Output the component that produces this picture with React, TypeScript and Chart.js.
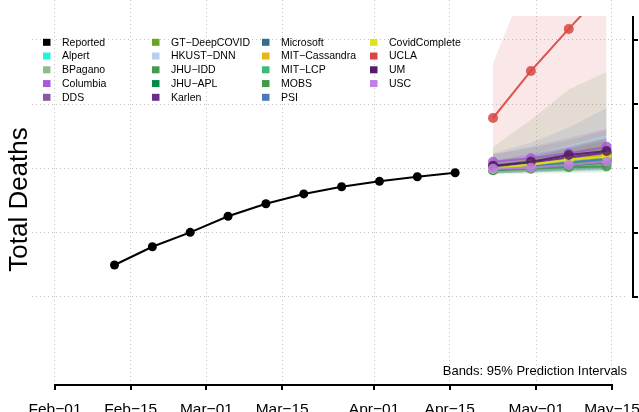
import React, { useEffect, useRef } from 'react';
import { Chart, registerables } from 'chart.js';
Chart.register(...registerables);

const FONT = 'Liberation Sans, Arial, Helvetica, sans-serif';

// X axis: days since Feb-01
const tickDays = [0, 14, 28, 42, 59, 73, 89, 103];
const tickLabels = ['Feb−01', 'Feb−15', 'Mar−01', 'Mar−15', 'Apr−01', 'Apr−15', 'May−01', 'May−15'];
// Y axis ticks (thousands of deaths; labels are outside the visible frame)
const yTicks = [450, 500, 550, 600, 650];

const reportedDays = [11, 18, 25, 32, 39, 46, 53, 60, 67, 74];
const reportedDeaths = [474.9, 489.1, 500.3, 512.8, 522.6, 530.2, 535.8, 540.0, 543.6, 546.7];

const forecastDays = [81, 88, 95, 102];

const modelNames = [
  'Alpert', 'BPagano', 'Columbia', 'DDS', 'GT−DeepCOVID', 'HKUST−DNN', 'JHU−IDD', 'JHU−APL', 'Karlen',
  'Microsoft', 'MIT−Cassandra', 'MIT−LCP', 'MOBS', 'PSI', 'CovidComplete', 'UCLA', 'UM', 'USC',
];
const modelColors = [
  '#1FF5DA', '#8FBC8F', '#A85AD7', '#8A58A3', '#67A61C', '#B8CEF2', '#469A4D', '#008B45', '#6A2C8F',
  '#2E6F8E', '#E5B716', '#3DBB74', '#419A4A', '#4E78BC', '#DDE31A', '#D94644', '#521F66', '#BE80E2',
];
const modelPoints = [
  [549.6, 552.2, 555.0, 558.0],
  [549.8, 552.6, 555.6, 558.6],
  [555.3, 557.9, 561.8, 567.0],
  [551.0, 554.0, 557.4, 561.0],
  [549.2, 552.0, 555.2, 558.2],
  [550.2, 552.6, 555.0, 557.4],
  [549.0, 551.6, 554.2, 556.8],
  [548.6, 550.6, 552.6, 554.6],
  [551.6, 554.6, 558.6, 562.4],
  [550.4, 553.4, 556.8, 560.2],
  [550.0, 553.4, 557.0, 560.6],
  [549.2, 551.8, 554.4, 557.0],
  [548.8, 549.8, 551.0, 551.6],
  [549.6, 552.2, 554.8, 557.4],
  [549.6, 553.0, 556.6, 559.4],
  [589.3, 625.9, 658.6, 690.3],
  [552.2, 555.3, 560.5, 563.6],
  [549.8, 550.6, 552.7, 555.3],
];
const modelLower = [
  [546.5, 547.5, 548.5, 549.5],
  [547.0, 548.0, 549.0, 550.0],
  [549.0, 550.0, 551.5, 553.0],
  [547.5, 549.0, 550.5, 552.0],
  [546.5, 547.5, 548.5, 549.5],
  [547.5, 548.5, 549.5, 550.5],
  [546.0, 547.0, 548.0, 549.0],
  [546.5, 547.0, 547.5, 548.0],
  [548.5, 550.0, 551.5, 553.0],
  [546.0, 547.5, 549.0, 550.5],
  [547.0, 548.5, 550.0, 551.5],
  [546.5, 547.5, 548.5, 549.5],
  [545.5, 546.0, 546.5, 547.0],
  [546.5, 547.5, 548.5, 549.5],
  [547.0, 548.5, 550.0, 551.5],
  [553.0, 561.0, 568.0, 576.0],
  [549.0, 551.0, 553.0, 555.0],
  [546.5, 547.0, 548.0, 549.0],
];
const modelUpper = [
  [553.0, 557.0, 562.0, 567.0],
  [553.0, 558.0, 563.0, 568.0],
  [561.0, 566.0, 572.0, 580.0],
  [555.0, 559.0, 565.0, 571.0],
  [552.5, 557.0, 562.0, 567.0],
  [553.0, 557.0, 561.0, 565.0],
  [553.0, 557.0, 562.0, 567.0],
  [551.0, 554.0, 558.0, 562.0],
  [555.0, 560.0, 566.0, 573.0],
  [561.0, 567.0, 574.0, 581.0],
  [554.0, 559.0, 565.0, 572.0],
  [552.5, 556.5, 561.0, 566.0],
  [566.7, 588.0, 611.5, 625.0],
  [562.0, 570.0, 582.0, 597.0],
  [553.0, 558.0, 564.0, 570.0],
  [632.0, 705.0, 775.0, 845.0],
  [556.0, 561.0, 567.0, 574.0],
  [553.0, 556.0, 560.0, 564.0],
];

const noteText = 'Bands: 95% Prediction Intervals';
const yTitle = 'Total Deaths';

function rgba(hex: string, a: number) {
  const n = parseInt(hex.slice(1), 16);
  return `rgba(${(n >> 16) & 255},${(n >> 8) & 255},${n & 255},${a})`;
}

const PLOT_TOP = 16;
const GRID = '#c4c4c4';

const rPlugin = {
  id: 'rStyle',
  beforeDatasetsDraw(chart: any) {
    const { ctx, chartArea: a } = chart;
    ctx.save();
    ctx.beginPath();
    ctx.rect(a.left, a.top + PLOT_TOP, a.right - a.left, a.bottom - a.top - PLOT_TOP);
    ctx.clip();
  },
  afterDatasetsDraw(chart: any) {
    chart.ctx.restore();
  },
  afterDraw(chart: any) {
    const { ctx, chartArea: a, scales } = chart;
    const xs = scales.x;
    const ys = scales.y;
    ctx.save();
    ctx.strokeStyle = '#000';
    ctx.lineWidth = 2;
    ctx.lineCap = 'butt';
    // bottom axis
    const ay = a.bottom + 2;
    ctx.beginPath();
    ctx.moveTo(xs.getPixelForValue(tickDays[0]) - 1, ay);
    ctx.lineTo(xs.getPixelForValue(tickDays[tickDays.length - 1]) + 1, ay);
    for (const d of tickDays) {
      const px = Math.round(xs.getPixelForValue(d));
      ctx.moveTo(px, ay);
      ctx.lineTo(px, ay + 5);
    }
    ctx.stroke();
    // right axis
    const ax = a.right + 5;
    ctx.beginPath();
    ctx.moveTo(ax, a.top + PLOT_TOP);
    ctx.lineTo(ax, ys.getPixelForValue(yTicks[0]) + 1);
    for (const v of yTicks) {
      const py = Math.round(ys.getPixelForValue(v));
      ctx.moveTo(ax, py);
      ctx.lineTo(ax + 5, py);
    }
    ctx.stroke();

    // y title
    ctx.fillStyle = '#000';
    ctx.save();
    ctx.translate(27, (a.top + PLOT_TOP + a.bottom) / 2);
    ctx.rotate(-Math.PI / 2);
    ctx.font = `26px ${FONT}`;
    ctx.textAlign = 'center';
    ctx.textBaseline = 'alphabetic';
    ctx.fillText(yTitle, 0, 0);
    ctx.restore();

    // note
    ctx.font = `13px ${FONT}`;
    ctx.textAlign = 'right';
    ctx.textBaseline = 'alphabetic';
    ctx.fillText(noteText, a.right - 1, a.bottom - 8.5);

    // legend (column-major, 5 rows)
    const names = ['Reported', ...modelNames];
    const colors = ['#000000', ...modelColors];
    const colX = [43, 152, 262, 370];
    ctx.font = `10.5px ${FONT}`;
    ctx.textAlign = 'left';
    ctx.textBaseline = 'middle';
    names.forEach((nm, i) => {
      const c = Math.floor(i / 5);
      const r = i % 5;
      const x = colX[c];
      const y = 42.3 + r * 13.75;
      ctx.fillStyle = colors[i];
      ctx.fillRect(x, y - 3.5, 7.5, 7);
      ctx.fillStyle = '#000';
      ctx.fillText(nm, x + 19, y + 0.5);
    });
    ctx.restore();
  },
};

export default function App() {
  const ref = useRef<HTMLCanvasElement>(null);
  useEffect(() => {
    const canvas = ref.current!;
    const datasets: any[] = [];
    // bands
    modelNames.forEach((nm, i) => {
      datasets.push({
        label: nm + ' lower',
        data: forecastDays.map((d, j) => ({ x: d, y: modelLower[i][j] })),
        borderColor: 'rgba(0,0,0,0)',
        borderWidth: 0,
        pointRadius: 0,
        fill: false,
        order: 3000 - i * 2,
      });
      datasets.push({
        label: nm + ' upper',
        data: forecastDays.map((d, j) => ({ x: d, y: modelUpper[i][j] })),
        borderColor: 'rgba(0,0,0,0)',
        borderWidth: 0,
        pointRadius: 0,
        backgroundColor: rgba(modelColors[i], 0.13),
        fill: '-1',
        order: 3000 - i * 2 - 1,
      });
    });
    // reported
    datasets.push({
      label: 'Reported',
      data: reportedDays.map((d, j) => ({ x: d, y: reportedDeaths[j] })),
      borderColor: '#000',
      backgroundColor: '#000',
      borderWidth: 2,
      pointRadius: 4.5,
      pointBorderWidth: 0,
      pointBackgroundColor: '#000',
      fill: false,
      order: 500,
    });
    modelNames.forEach((nm, i) => {
      datasets.push({
        label: nm,
        data: forecastDays.map((d, j) => ({ x: d, y: modelPoints[i][j] })),
        borderColor: rgba(modelColors[i], 0.9),
        backgroundColor: rgba(modelColors[i], 0.85),
        borderWidth: 2,
        pointRadius: 5,
        pointBorderWidth: 0,
        pointBackgroundColor: rgba(modelColors[i], 0.85),
        fill: false,
        order: 100 - i,
      });
    });

    const chart = new Chart(canvas, {
      type: 'line',
      data: { datasets },
      options: {
        animation: false,
        responsive: false,
        devicePixelRatio: 1,
        events: [],
        layout: { autoPadding: false, padding: { left: 32, top: 0, right: 0, bottom: 0 } },
        plugins: {
          legend: { display: false },
          tooltip: { enabled: false },
          filler: { drawTime: 'beforeDatasetDraw', propagate: false },
        },
        scales: {
          x: {
            type: 'linear',
            position: 'bottom',
            bounds: 'data',
            min: -4.253,
            max: 105.959,
            afterBuildTicks: (s: any) => {
              s.ticks = tickDays.map((v) => ({ value: v }));
            },
            afterFit: (s: any) => {
              s.height = 29;
              s.paddingLeft = 0;
              s.paddingRight = 0;
            },
            grid: { color: GRID, lineWidth: 1, drawTicks: false },
            border: { display: false, dash: [1, 3] },
            ticks: {
              autoSkip: false,
              maxRotation: 0,
              padding: 17,
              color: '#000',
              font: { family: FONT, size: 15.5 },
              callback: (v: any) => tickLabels[tickDays.indexOf(Number(v))] ?? '',
            },
          },
          y: {
            type: 'linear',
            position: 'right',
            bounds: 'data',
            min: 383.074,
            max: 681.128,
            afterBuildTicks: (s: any) => {
              s.ticks = yTicks.map((v) => ({ value: v }));
            },
            afterFit: (s: any) => {
              s.width = 11;
              s.paddingTop = 0;
              s.paddingBottom = 0;
            },
            grid: { color: GRID, lineWidth: 1, drawTicks: false },
            border: { display: false, dash: [1, 3] },
            ticks: { display: false },
          },
        },
      } as any,
      plugins: [rPlugin],
    });
    return () => chart.destroy();
  }, []);
  return (
    <div style={{ position: 'fixed', left: 0, top: 0, width: 639, height: 412, background: '#fff' }}>
      <canvas ref={ref} width={639} height={412} style={{ display: 'block', width: 639, height: 412 }} />
    </div>
  );
}
